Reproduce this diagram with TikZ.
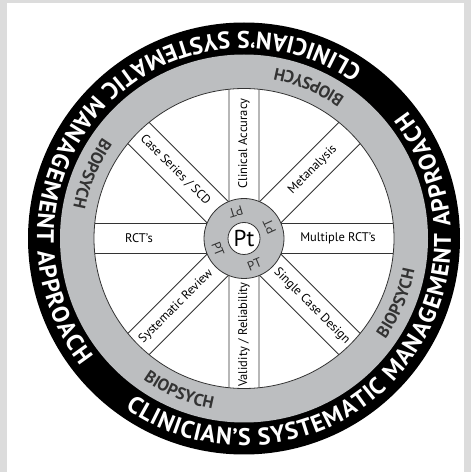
\documentclass[tikz,border=0pt]{standalone}
\usepackage{fontspec}
\setmainfont{PT Sans}
\usepackage{tikz}
\usetikzlibrary{decorations.text}
\usetikzlibrary{positioning}

\definecolor{ringgray}{HTML}{BCBEC0}
\definecolor{framegray}{HTML}{DCDCDC}
\definecolor{inkgray}{HTML}{333333}

\newcommand{\outerfont}{\bfseries\fontsize{24}{24}\selectfont}
\newcommand{\biofont}{\bfseries\fontsize{17}{17}\selectfont}

\begin{document}
\begin{tikzpicture}[x=1pt,y=1pt,
    spokeline/.style={inkgray,line width=0.8pt},
    spoketext/.style={font=\fontsize{12.5}{12.5}\selectfont,inner sep=0pt},
    ptlabel/.style={font=\fontsize{13}{13}\selectfont,inner sep=0pt,text=inkgray}]
          \useasboundingbox (0,0) rectangle (471,472);
          \fill[framegray] (0,0) rectangle (471,472);
          \fill[white] (7,0) rectangle (464,469);

          \begin{scope}[shift={(244,233.5)}]
          \coordinate (O) at (0,0);

          % the rings
          \fill[black] (O) circle (216);
          \fill[ringgray] (O) circle (184);
          \filldraw[fill=white,draw=inkgray,line width=0.8pt] (O) circle (150);

          % outer text, twice
          \foreach \s in {-125,55}{
            \path[decorate,decoration={text effects along path,
                  text={CLINICIAN’S SYSTEMATIC MANAGEMENT APPROACH},
                  text effects/.cd,text along path,fit text to path,
                  characters={text=white,font=\outerfont}}]
                  (\s:207) arc[start angle=\s,end angle=\s+163,radius=207];
          }

          % biopsych, four times
          \foreach \c in {67,157,247,337}{
            \path[decorate,decoration={text along path,text align=center,text color=inkgray,
                  text={|\biofont|BIOPSYCH}}]
                  (\c-40:173.5) arc[start angle=\c-40,end angle=\c+40,radius=173.5];
          }

          % spokes
          \foreach \a in {0,45,...,315}{
            \draw[spokeline] (\a+22.02:40) -- (\a+5.74:150);
            \draw[spokeline] (\a-22.02:40) -- (\a-5.74:150);
          }

          \node[spoketext,rotate=90]  (accuracy)    at (90:95)   {Clinical Accuracy};
          \node[spoketext,rotate=45]  (metanalysis) at (45:97)   {Metanalysis};
          \node[spoketext]            (multiple)    at (0:94)    {Multiple RCT’s};
          \node[spoketext,rotate=-45] (single)      at (-45:96)  {Single Case Design};
          \node[spoketext,rotate=90]  (validity)    at (-90:96)  {Validity / Reliability};
          \node[spoketext,rotate=45]  (review)      at (225:96)  {Systematic Review};
          \node[spoketext]            (rcts)        at (180:105) {RCT’s};
          \node[spoketext,rotate=-45] (series)      at (135:97)  {Case Series / SCD};

          % hub
          \filldraw[fill=ringgray,draw=inkgray,line width=0.8pt] (O) circle (40);
          \filldraw[fill=white,draw=inkgray,line width=0.8pt] (O) circle (16);
          \node[font=\fontsize{23}{23}\selectfont,inner sep=0pt] (pt) at (O) {Pt};

          \node[ptlabel,rotate=197] (pt1) at (107:28) {PT};
          \node[ptlabel,rotate=115] (pt2) at (25:28)  {PT};
          \node[ptlabel,rotate=22]  (pt3) at (-68:28) {PT};
          \node[ptlabel,rotate=-68] (pt4) at (202:28) {PT};
          \end{scope}
        \end{tikzpicture}
\end{document}
